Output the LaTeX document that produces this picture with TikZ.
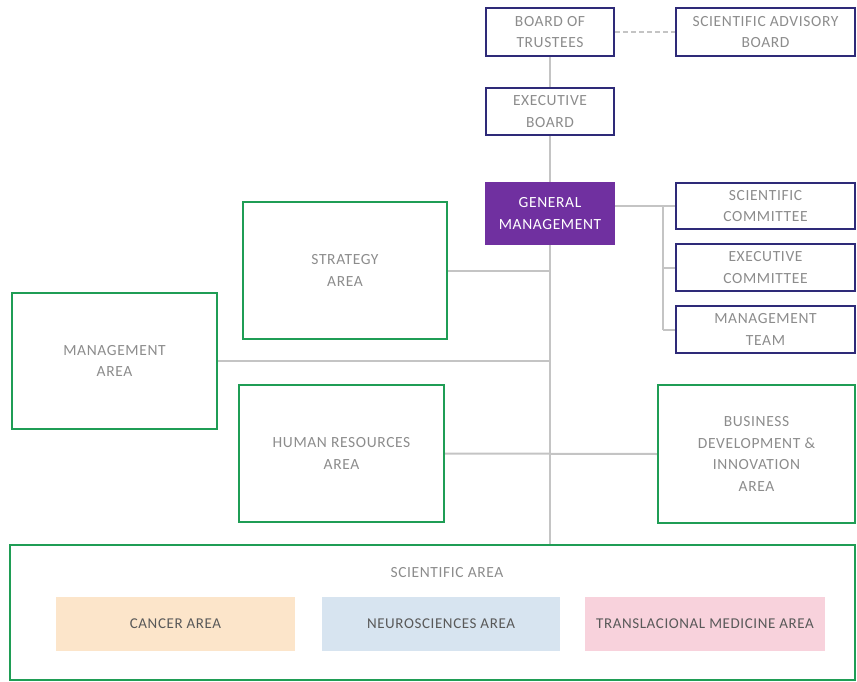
\documentclass[tikz,border=0pt]{standalone}
\usepackage{fontspec}
\setmainfont{Carlito}[LetterSpace=4]
\definecolor{navy}{HTML}{2E2A78}
\definecolor{grn}{HTML}{1F9D55}
\definecolor{gmpurple}{HTML}{7030A0}
\definecolor{conn}{HTML}{C4C4C4}
\definecolor{txt}{HTML}{8C8C8C}
\definecolor{peach}{HTML}{FCE5CA}
\definecolor{lblue}{HTML}{D7E4F0}
\definecolor{lpink}{HTML}{F8D2DC}
\tikzset{
  box/.style={rectangle, inner sep=0pt, align=center, text=txt,
    font=\fontsize{15.5}{21.5}\selectfont},
  navybox/.style={box, draw=navy, line width=2.4pt},
  greenbox/.style={box, draw=grn, line width=2.4pt},
  subbox/.style={box, text=black!65, font=\fontsize{15}{18}\selectfont},
  link/.style={draw=conn, line width=2pt},
}
\begin{document}
\begin{tikzpicture}[x=1pt,y=-1pt]
\useasboundingbox (0,0) rectangle (857,682);

\node[navybox, minimum width=128pt, minimum height=48pt] (trustees) at (550,32) {BOARD OF\\TRUSTEES};
\node[navybox, minimum width=179pt, minimum height=48pt] (sab) at (765.5,32) {SCIENTIFIC ADVISORY\\BOARD};
\node[navybox, minimum width=128pt, minimum height=47pt] (execboard) at (550,111.5) {EXECUTIVE\\BOARD};
\node[box, fill=gmpurple, text=white, minimum width=130pt, minimum height=63pt] (gm) at (550,213.5) {GENERAL\\MANAGEMENT};
\node[navybox, minimum width=179pt, minimum height=46pt] (scicomm) at (765.5,206) {SCIENTIFIC\\COMMITTEE};
\node[navybox, minimum width=179pt, minimum height=47pt] (execcomm) at (765.5,267.5) {EXECUTIVE\\COMMITTEE};
\node[navybox, minimum width=179pt, minimum height=47pt] (mteam) at (765.5,329.5) {MANAGEMENT\\TEAM};
\node[greenbox, minimum width=204pt, minimum height=137pt] (strategy) at (345,270.5) {STRATEGY\\AREA};
\node[greenbox, minimum width=205pt, minimum height=136pt] (mgmt) at (114.5,361) {MANAGEMENT\\AREA};
\node[greenbox, minimum width=205pt, minimum height=137pt] (hr) at (341.5,453.5) {HUMAN RESOURCES\\AREA};
\node[greenbox, minimum width=197pt, minimum height=138pt] (bd) at (756.5,454) {BUSINESS\\DEVELOPMENT \&\\INNOVATION\\AREA};
\node[greenbox, minimum width=845pt, minimum height=135pt] (sci) at (432.5,612.5) {};
\node[box] (scilabel) at (447,573) {SCIENTIFIC AREA};
\node[subbox, fill=peach, minimum width=239pt, minimum height=54pt] (cancer) at (175.5,624) {CANCER AREA};
\node[subbox, fill=lblue, minimum width=238pt, minimum height=54pt] (neuro) at (441,624) {NEUROSCIENCES AREA};
\node[subbox, fill=lpink, minimum width=240pt, minimum height=54pt] (transl) at (705,624) {TRANSLACIONAL MEDICINE AREA};

\coordinate (bus) at (663,206);

\draw[link] (trustees.south) -- (execboard.north);
\draw[link] (execboard.south) -- (gm.north);
\draw[link] (gm.south) -- (gm.south |- sci.north);
\draw[link] (strategy.east) -- (strategy.east -| gm.south);
\draw[link] (mgmt.east) -- (mgmt.east -| gm.south);
\draw[link] (hr.east) -- (bd.west);
\draw[link] (gm.east |- scicomm.west) -- (scicomm.west);
\draw[link] (bus) -- (bus |- mteam.west);
\draw[link] (bus |- execcomm.west) -- (execcomm.west);
\draw[link] (bus |- mteam.west) -- (mteam.west);
\draw[link, dashed, dash pattern=on 5pt off 3pt] (trustees.east) -- (sab.west);
\end{tikzpicture}
\end{document}
